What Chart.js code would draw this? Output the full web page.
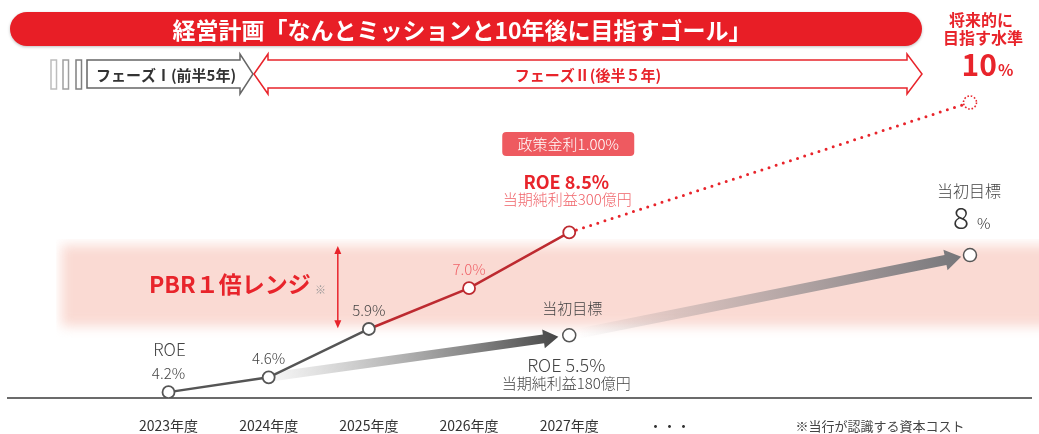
<!DOCTYPE html>
<html><head><meta charset="utf-8">
<script src="https://cdn.jsdelivr.net/npm/chart.js@4.4.1/dist/chart.umd.min.js"></script>
<style>html,body{margin:0;padding:0;background:#fff;overflow:hidden}#wrap{width:1039px;height:434px;position:relative}</style>
</head><body><div id="wrap"><canvas id="c" width="1039" height="434"></canvas></div>
<script>
// ---- data ----
const categories = ['2023年度','2024年度','2025年度','2026年度','2027年度','・・・'];
const actualX = [0, 1, 2, 3, 4];
const roeActual = [4.2, 4.6, 5.9, 7.0, 8.5];
const roeActualLabels = ['4.2%', '4.6%', '5.9%', '7.0%', 'ROE 8.5%'];
const futureX = [4, 8];
const futureRoe = [8.5, 12.0];          // plotted position of the "10%" goal (schematic)
const futureLabel = '10';
const planX = [1, 4, 8];
const planRoe = [4.6, 5.73, 7.89];       // plotted positions of the initial targets
const planLabels = ['', 'ROE 5.5%', '8'];
const pbrBand = [5.65, 8.32];
const pbrBandStartX = -1.12;
const pbrArrowX = 1.69;

const FONT = '"Noto Sans CJK JP","Noto Sans",sans-serif';
const RED = '#e8242b';

function txt(ctx, s, x, y, size, color, weight, align, baseline) {
  ctx.save();
  ctx.font = (weight || 400) + ' ' + size + 'px ' + FONT;
  ctx.fillStyle = color;
  ctx.textAlign = align || 'center';
  ctx.textBaseline = baseline || 'middle';
  ctx.fillText(s, x, y);
  ctx.restore();
}

function arrow(ctx, x1, y1, x2, y2, bodyW, headW, headL, c1, c2) {
  const ang = Math.atan2(y2 - y1, x2 - x1);
  const len = Math.hypot(x2 - x1, y2 - y1);
  ctx.save();
  ctx.translate(x1, y1);
  ctx.rotate(ang);
  const g = ctx.createLinearGradient(0, 0, len, 0);
  g.addColorStop(0, c1);
  g.addColorStop(1, c2);
  ctx.fillStyle = g;
  ctx.beginPath();
  ctx.moveTo(0, -bodyW / 2);
  ctx.lineTo(len - headL, -bodyW / 2);
  ctx.lineTo(len - headL, -headW / 2);
  ctx.lineTo(len, 0);
  ctx.lineTo(len - headL, headW / 2);
  ctx.lineTo(len - headL, bodyW / 2);
  ctx.lineTo(0, bodyW / 2);
  ctx.closePath();
  ctx.fill();
  ctx.restore();
}

const deco = {
  id: 'deco',
  beforeDatasetsDraw(chart) {
    const ctx = chart.ctx;
    const X = v => chart.scales.x.getPixelForValue(v);
    const Y = v => chart.scales.y.getPixelForValue(v);
    // PBR band
    const bx = X(pbrBandStartX), by1 = Y(pbrBand[1]), by2 = Y(pbrBand[0]);
    ctx.save();
    ctx.beginPath();
    ctx.rect(bx, by1, chart.width - bx, by2 - by1);
    ctx.clip();
    ctx.filter = 'blur(6px)';
    ctx.fillStyle = 'rgb(250,218,211)';
    ctx.fillRect(bx + 5, by1 + 6, chart.width, by2 - by1 - 18);
    ctx.restore();

    // plan arrows
    const p0 = [X(planX[0]), Y(planRoe[0])];
    const p1 = [X(planX[1]), Y(planRoe[1])];
    const p2 = [X(planX[2]), Y(planRoe[2])];
    function shorten(a, b, d) {
      const l = Math.hypot(b[0] - a[0], b[1] - a[1]);
      return [b[0] - (b[0] - a[0]) * d / l, b[1] - (b[1] - a[1]) * d / l];
    }
    const e1 = shorten(p0, p1, 11);
    arrow(ctx, p0[0], p0[1], e1[0], e1[1], 9, 19, 15, 'rgba(120,120,120,0.05)', 'rgba(70,70,70,1)');
    const s2 = shorten(p2, p1, 9);
    const e2 = shorten(p1, p2, 9);
    arrow(ctx, s2[0], s2[1], e2[0], e2[1], 10, 21, 16, 'rgba(130,130,135,0)', 'rgba(118,118,122,1)');

    // PBR double arrow
    const ax = X(pbrArrowX), ay1 = by1 + 7, ay2 = by2 - 10;
    ctx.save();
    ctx.strokeStyle = RED; ctx.fillStyle = RED; ctx.lineWidth = 1.5;
    ctx.beginPath(); ctx.moveTo(ax, ay1 + 4); ctx.lineTo(ax, ay2 - 4); ctx.stroke();
    ctx.beginPath(); ctx.moveTo(ax, ay1); ctx.lineTo(ax - 3.5, ay1 + 8); ctx.lineTo(ax + 3.5, ay1 + 8); ctx.closePath(); ctx.fill();
    ctx.beginPath(); ctx.moveTo(ax, ay2); ctx.lineTo(ax - 3.5, ay2 - 8); ctx.lineTo(ax + 3.5, ay2 - 8); ctx.closePath(); ctx.fill();
    ctx.restore();
  },
  afterDraw(chart) {
    const ctx = chart.ctx;
    const X = v => chart.scales.x.getPixelForValue(v);
    const Y = v => chart.scales.y.getPixelForValue(v);

    // future goal dotted circle
    const fx = X(futureX[1]), fy = Y(futureRoe[1]);
    ctx.save();
    ctx.strokeStyle = RED; ctx.lineWidth = 1.6; ctx.setLineDash([1.6, 1.8]);
    ctx.fillStyle = '#fff';
    ctx.beginPath(); ctx.arc(fx, fy, 6.5, 0, Math.PI * 2); ctx.fill(); ctx.stroke();
    ctx.restore();

    // banner
    ctx.save();
    ctx.shadowColor = 'rgba(0,0,0,0.25)'; ctx.shadowBlur = 3; ctx.shadowOffsetY = 1;
    ctx.fillStyle = '#e81e26';
    ctx.beginPath(); ctx.roundRect(10, 12, 912, 34, 17); ctx.fill();
    ctx.restore();
    txt(ctx, '経営計画「なんとミッションと10年後に目指すゴール」', 462, 30, 23, '#fff', 700);

    // phase bars
    const bars = [[51, '#bdbdbd'], [63, '#a0a0a0'], [76, '#808080']];
    bars.forEach(b => {
      ctx.save(); ctx.strokeStyle = b[1]; ctx.lineWidth = 1.5; ctx.fillStyle = '#fff';
      ctx.fillRect(b[0], 60, 5.5, 29); ctx.strokeRect(b[0], 60, 5.5, 29); ctx.restore();
    });
    ctx.save();
    ctx.strokeStyle = '#666'; ctx.lineWidth = 1.5; ctx.fillStyle = '#fff';
    ctx.beginPath();
    ctx.moveTo(87, 60); ctx.lineTo(240, 60); ctx.lineTo(240, 54); ctx.lineTo(253, 74);
    ctx.lineTo(240, 94); ctx.lineTo(240, 88); ctx.lineTo(87, 88); ctx.closePath();
    ctx.fill(); ctx.stroke();
    ctx.strokeStyle = RED;
    ctx.beginPath();
    ctx.moveTo(254, 74); ctx.lineTo(268, 54); ctx.lineTo(268, 60); ctx.lineTo(907, 60); ctx.lineTo(907, 54);
    ctx.lineTo(922, 74); ctx.lineTo(907, 94); ctx.lineTo(907, 88); ctx.lineTo(268, 88); ctx.lineTo(268, 94); ctx.closePath();
    ctx.fill(); ctx.stroke();
    ctx.restore();
    txt(ctx, 'フェーズⅠ(前半5年)', 166, 75, 15, '#333', 700);
    txt(ctx, 'フェーズⅡ(後半５年)', 588, 75, 15, RED, 700);

    // top right goal
    txt(ctx, '将来的に', 981, 20, 16, RED, 700);
    txt(ctx, '目指す水準', 983, 38, 16, RED, 700);
    txt(ctx, futureLabel, 997, 76, 30, RED, 700, 'right', 'alphabetic');
    txt(ctx, '%', 998, 76, 16, RED, 700, 'left', 'alphabetic');

    // actual labels
    const pts = actualX.map((x, i) => [X(x), Y(roeActual[i])]);
    txt(ctx, 'ROE', pts[0][0] + 1, pts[0][1] - 43, 17, '#444', 300);
    for (let i = 0; i < 3; i++) txt(ctx, roeActualLabels[i], pts[i][0], pts[i][1] - 19, 15, '#444', 300);
    txt(ctx, roeActualLabels[3], pts[3][0], pts[3][1] - 19, 15, '#f0646a', 300);
    const p4 = pts[4];
    ctx.save(); ctx.fillStyle = '#ee5a60';
    ctx.beginPath(); ctx.roundRect(p4[0] - 67, 132, 132, 24, 4); ctx.fill(); ctx.restore();
    txt(ctx, '政策金利1.00%', p4[0] - 1, 144.5, 15, '#fff', 300);
    txt(ctx, roeActualLabels[4], p4[0] - 3, p4[1] - 50, 18, RED, 700);
    txt(ctx, '当期純利益300億円', p4[0] - 2, p4[1] - 33, 15, '#f0646a', 300);

    // plan labels
    const q1 = [X(planX[1]), Y(planRoe[1])];
    txt(ctx, '当初目標', q1[0] + 3, q1[1] - 27, 15, '#444', 300);
    txt(ctx, planLabels[1], q1[0] - 3, q1[1] + 30, 18, '#444', 300);
    txt(ctx, '当期純利益180億円', q1[0] - 3, q1[1] + 48, 15, '#444', 300);
    const q2 = [X(planX[2]), Y(planRoe[2])];
    txt(ctx, '当初目標', q2[0] - 1, q2[1] - 64, 16, '#444', 300);
    txt(ctx, planLabels[2], q2[0] - 1, q2[1] - 26, 30, '#333', 300, 'right', 'alphabetic');
    txt(ctx, '%', q2[0] + 7, q2[1] - 26, 15, '#333', 300, 'left', 'alphabetic');

    // PBR label
    txt(ctx, 'PBR１倍レンジ', 149, 284, 23, RED, 700, 'left');
    txt(ctx, '※', 315, 290, 11, '#999', 400, 'left');

    // footnote
    txt(ctx, '※当行が認識する資本コスト', 880, 426, 13, '#444', 400);
  }
};

new Chart(document.getElementById('c').getContext('2d'), {
  type: 'line',
  data: {
    datasets: [
      {
        label: 'ROE', order: 0,
        data: actualX.map((x, i) => ({ x: x, y: roeActual[i] })),
        borderWidth: 2.5, borderColor: '#555',
        segment: { borderColor: c => c.p0DataIndex >= 2 ? '#bd2a30' : '#555' },
        pointRadius: 6, pointBorderWidth: 1.8, pointBackgroundColor: '#fff',
        pointBorderColor: c => c.dataIndex >= 3 ? '#bd2a30' : '#555'
      },
      {
        label: '将来', order: 2,
        data: futureX.map((x, i) => ({ x: x, y: futureRoe[i] })),
        borderColor: RED, borderWidth: 3, borderDash: [0, 7.5], borderCapStyle: 'round',
        pointRadius: 0
      },
      {
        label: '当初目標', order: 1, showLine: false,
        data: planX.map((x, i) => ({ x: x, y: planRoe[i] })),
        pointRadius: [0, 6.5, 6.5], pointBorderWidth: 1.5, pointBackgroundColor: '#fff', pointBorderColor: '#555'
      }
    ]
  },
  options: {
    animation: false, responsive: false,
    layout: { padding: 0 },
    plugins: { legend: { display: false }, tooltip: { enabled: false } },
    scales: {
      x: {
        type: 'linear', min: -1.602, max: 8.609,
        grid: { display: false, drawTicks: false },
        border: { display: true, color: '#6b6b6b', width: 2 },
        afterBuildTicks: s => { s.ticks = categories.map((c, i) => ({ value: i })); },
        ticks: { autoSkip: false, maxRotation: 0, minRotation: 0, padding: 19, color: '#333',
          font: { family: FONT, size: 14 }, callback: v => categories[v] },
        afterFit: s => { s.height = 36; }
      },
      y: { display: false, min: 4.042, max: 14.543 }
    }
  },
  plugins: [deco]
});
</script>
</body></html>
